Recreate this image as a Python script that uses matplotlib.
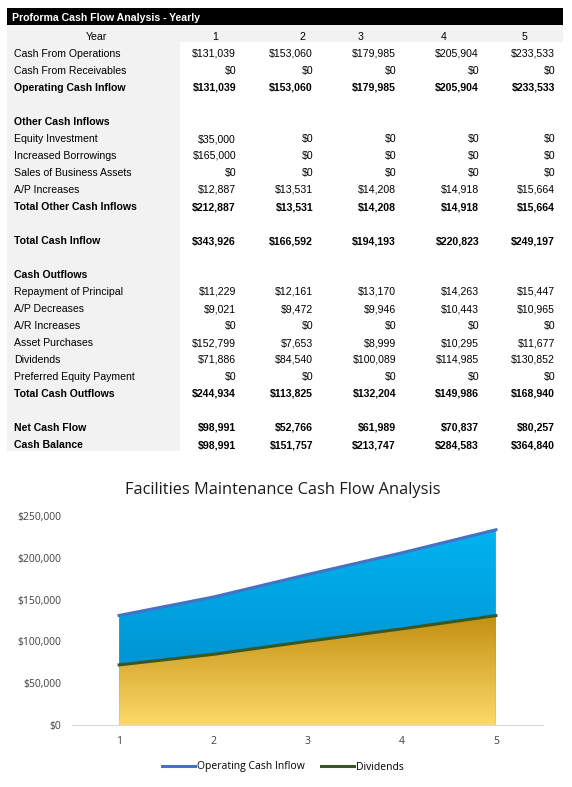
import numpy as np
import matplotlib
matplotlib.use("Agg")
from matplotlib import pyplot as plt
from matplotlib.colors import LinearSegmentedColormap
from matplotlib.patches import Rectangle

# table data
years = ["1", "2", "3", "4", "5"]
cash_from_operations = [131039, 153060, 179985, 205904, 233533]
cash_from_receivables = [0, 0, 0, 0, 0]
operating_cash_inflow = [131039, 153060, 179985, 205904, 233533]
equity_investment = [35000, 0, 0, 0, 0]
increased_borrowings = [165000, 0, 0, 0, 0]
sales_of_assets = [0, 0, 0, 0, 0]
ap_increases = [12887, 13531, 14208, 14918, 15664]
total_other_inflows = [212887, 13531, 14208, 14918, 15664]
total_cash_inflow = [343926, 166592, 194193, 220823, 249197]
repayment_principal = [11229, 12161, 13170, 14263, 15447]
ap_decreases = [9021, 9472, 9946, 10443, 10965]
ar_increases = [0, 0, 0, 0, 0]
asset_purchases = [152799, 7653, 8999, 10295, 11677]
dividends = [71886, 84540, 100089, 114985, 130852]
preferred_equity = [0, 0, 0, 0, 0]
total_cash_outflows = [244934, 113825, 132204, 149986, 168940]
net_cash_flow = [98991, 52766, 61989, 70837, 80257]
cash_balance = [98991, 151757, 213747, 284583, 364840]

# (label, values, bold)
rows = [
    ("Cash From Operations", cash_from_operations, False),
    ("Cash From Receivables", cash_from_receivables, False),
    ("Operating Cash Inflow", operating_cash_inflow, True),
    ("", None, False),
    ("Other Cash Inflows", None, True),
    ("Equity Investment", equity_investment, False),
    ("Increased Borrowings", increased_borrowings, False),
    ("Sales of Business Assets", sales_of_assets, False),
    ("A/P Increases", ap_increases, False),
    ("Total Other Cash Inflows", total_other_inflows, True),
    ("", None, False),
    ("Total Cash Inflow", total_cash_inflow, True),
    ("", None, False),
    ("Cash Outflows", None, True),
    ("Repayment of Principal", repayment_principal, False),
    ("A/P Decreases", ap_decreases, False),
    ("A/R Increases", ar_increases, False),
    ("Asset Purchases", asset_purchases, False),
    ("Dividends", dividends, False),
    ("Preferred Equity Payment", preferred_equity, False),
    ("Total Cash Outflows", total_cash_outflows, True),
    ("", None, False),
    ("Net Cash Flow", net_cash_flow, True),
    ("Cash Balance", cash_balance, True),
]

W, H = 572, 787
fig = plt.figure(figsize=(W / 100, H / 100), dpi=100)

# table drawn in pixel coordinates
tab = fig.add_axes([0, 0, 1, 1])
tab.set_xlim(0, W)
tab.set_ylim(H, 0)
tab.axis("off")

tfont = "Liberation Sans"
fs = 7.6
row_h = 17
top = 8
tab.add_patch(Rectangle((7, top), 556, 17, color="black", lw=0))
tab.text(12, top + 13, "Proforma Cash Flow Analysis - Yearly", color="white",
         fontweight="bold", fontsize=fs, family=tfont, va="baseline")
tab.add_patch(Rectangle((7, top + 17), 556, 17, color="#f2f2f2", lw=0))
tab.add_patch(Rectangle((7, top + 34), 173, row_h * len(rows) + 1,
                        color="#f2f2f2", lw=0))

col_right = [236, 313, 396, 479, 555]
col_center = [215, 302, 361, 444, 525]
yb = top + 17 + 15
tab.text(96, yb, "Year", fontsize=fs, family=tfont, ha="center", va="baseline")
for c, yr in zip(col_center, years):
    tab.text(c, yb, yr, fontsize=fs, family=tfont, ha="center", va="baseline")

for i, (label, vals, bold) in enumerate(rows):
    y = top + 34 + row_h * i + 15
    fw = "bold" if bold else "normal"
    if label:
        tab.text(14, y, label, fontsize=fs, family=tfont, fontweight=fw,
                 va="baseline")
    if vals is not None:
        for r, v in zip(col_right, vals):
            tab.text(r, y, "${:,}".format(v), fontsize=fs, family=tfont,
                     fontweight=fw, ha="right", va="baseline")

# chart
cfont = ["Open Sans", "DejaVu Sans"]
x = np.arange(1, 6)
ax = fig.add_axes([72 / W, (H - 725) / H, (543 - 72) / W, (725 - 516) / H])


def gradient_fill(ax, xs, y_lo, y_hi, c_top, c_bot, ymax):
    poly = ax.fill_between(xs, y_lo, y_hi, color="none", lw=0)
    cmap = LinearSegmentedColormap.from_list("g", [c_bot, c_top])
    grad = np.linspace(0, 1, 256).reshape(-1, 1)
    im = ax.imshow(grad, cmap=cmap, aspect="auto", origin="lower",
                   extent=[xs[0], xs[-1], 0, ymax], zorder=1)
    im.set_clip_path(poly.get_paths()[0], transform=ax.transData)


gradient_fill(ax, x, 0, operating_cash_inflow, "#00b4f0", "#0086c8",
              max(operating_cash_inflow))
gradient_fill(ax, x, 0, dividends, "#c39010", "#fcd96a", max(dividends))
ax.plot(x, operating_cash_inflow, color="#4472c4", lw=2.2, zorder=3,
        label="Operating Cash Inflow")
ax.plot(x, dividends, color="#385723", lw=2.2, zorder=3, label="Dividends")
ax.set_xlim(0.5, 5.5)
ax.set_ylim(0, 250000)

ax.set_xticks(x)
ax.set_xticklabels(years)
ax.set_yticks(np.arange(0, 250001, 50000))
ax.yaxis.set_major_formatter(matplotlib.ticker.FuncFormatter(
    lambda v, p: "${:,.0f}".format(v)))
for s in ["top", "right", "left"]:
    ax.spines[s].set_visible(False)
ax.spines["bottom"].set_color("#d9d9d9")
ax.tick_params(length=0, labelsize=7.5, colors="#404040", pad=8)
for t in ax.get_xticklabels() + ax.get_yticklabels():
    t.set_family(cfont)

fig.text(283 / W, 1 - 490 / H, "Facilities Maintenance Cash Flow Analysis",
         fontsize=11.8, family=cfont, ha="center", va="center",
         color="#1a1a1a")
fig.legend(loc="center", bbox_to_anchor=(283 / W, 1 - 767 / H), ncol=2,
           frameon=False, prop={"family": cfont, "size": 7.5},
           handlelength=3.2, handletextpad=0.2, columnspacing=1.5)

fig.savefig("out.png", dpi=100)
